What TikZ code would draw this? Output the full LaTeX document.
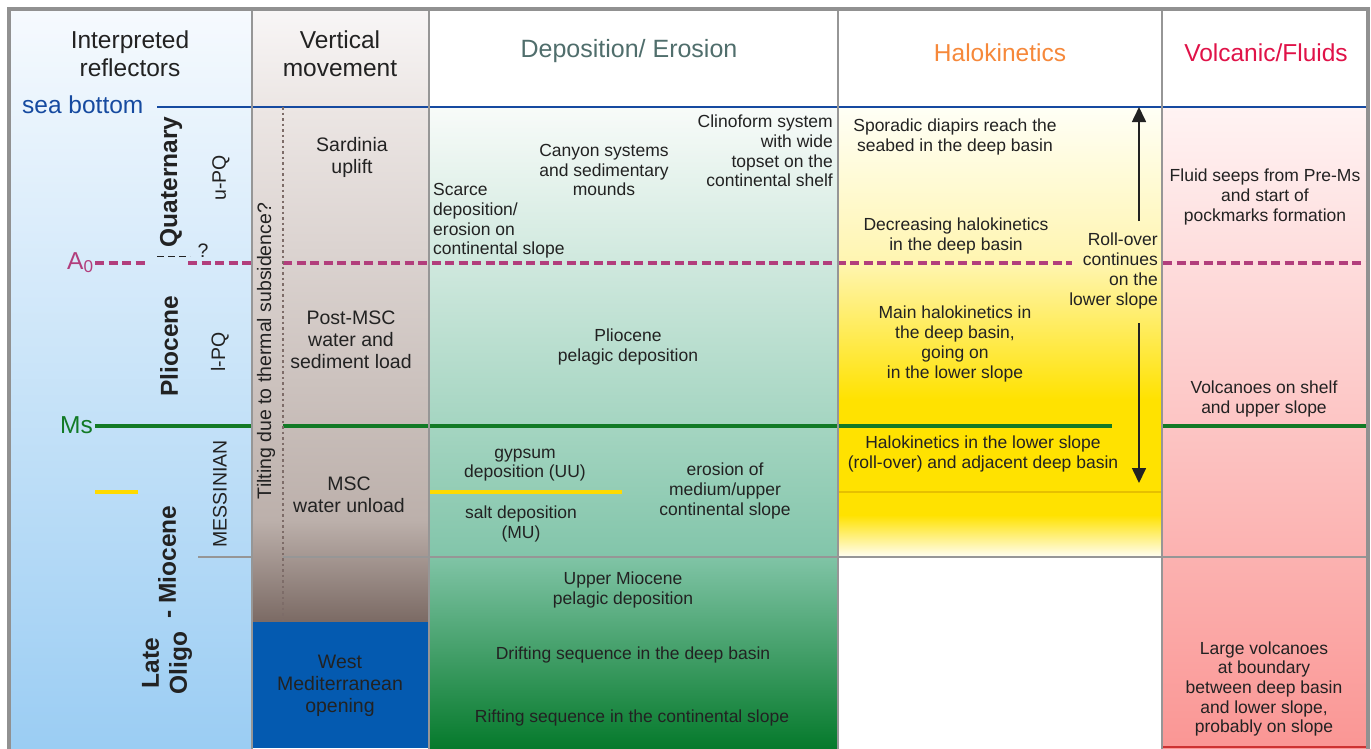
\documentclass[tikz,border=0pt]{standalone}
\usepackage{fontspec}
\setmainfont{Liberation Sans}
\usepackage{tikz}
\usetikzlibrary{positioning, arrows.meta}
\usepackage{color}

\definecolor{seablue}{RGB}{22,74,160}
\definecolor{azero}{RGB}{178,62,124}
\definecolor{msgreen}{RGB}{18,122,38}
\definecolor{gypyellow}{RGB}{255,218,0}
\definecolor{framegray}{RGB}{145,145,145}
\definecolor{rulegray}{RGB}{150,150,150}
\definecolor{txtgray}{RGB}{34,34,34}
\definecolor{depogray}{RGB}{80,110,108}
\definecolor{haloorange}{RGB}{246,136,58}
\definecolor{volcred}{RGB}{224,18,72}
\definecolor{westblue}{RGB}{4,90,176}
\definecolor{haloline}{RGB}{230,192,0}
\definecolor{halofull}{RGB}{255,226,0}
\definecolor{volcbase}{RGB}{205,50,50}
\definecolor{tiltdot}{RGB}{125,108,104}

\begin{document}
\begin{tikzpicture}[x=1pt, y=-1pt,
  txt/.style={text=txtgray, align=center, inner sep=0pt, font=\fontsize{17.5}{19.7}\selectfont},
  vtxt/.style={txt, font=\fontsize{19.5}{22}\selectfont},
  head/.style={text=txtgray, align=center, inner sep=0pt, font=\fontsize{24.5}{28}\selectfont},
  epoch/.style={rotate=90, inner sep=0pt, text=txtgray, font=\fontsize{24.5}{28}\selectfont\bfseries},
  stage/.style={rotate=90, inner sep=0pt, text=txtgray, font=\fontsize{19.5}{22}\selectfont},
  seabed/.style={draw=seablue, line width=2.6pt},
  horizonA/.style={draw=azero, line width=3.3pt, dash pattern=on 9pt off 4.5pt},
  msline/.style={draw=msgreen, line width=3.3pt},
  yline/.style={draw=gypyellow, line width=3.3pt},
  thinrule/.style={draw=rulegray, line width=1.5pt},
  divider/.style={draw=rulegray, line width=1.6pt},
  rollarrow/.style={draw=txtgray, line width=1.6pt, -{Triangle[width=14pt, length=15pt]}}]

  \useasboundingbox (0,0) rectangle (1371,748);
  \fill[white] (0,0) rectangle (1371,748);

  \shade[top color={rgb,255:red,246;green,250;blue,254}, bottom color={rgb,255:red,155;green,205;blue,243}] (9,9) rectangle (252,748);

  \shade[top color={rgb,255:red,248;green,246;blue,246}, bottom color={rgb,255:red,236;green,230;blue,228}] (252,9) rectangle (429,107);
  \shade[top color={rgb,255:red,236;green,230;blue,228}, bottom color={rgb,255:red,188;green,176;blue,171}] (252,107) rectangle (429,520);
  \shade[top color={rgb,255:red,188;green,176;blue,171}, bottom color={rgb,255:red,123;green,106;blue,100}] (252,520) rectangle (429,622);
  \fill[westblue] (252,622) rectangle (429,748);

  \shade[top color={rgb,255:red,248;green,251;blue,249}, bottom color={rgb,255:red,130;green,197;blue,170}] (429,107) rectangle (838,557);
  \shade[top color={rgb,255:red,128;green,196;blue,166}, middle color={rgb,255:red,30;green,162;blue,112}, bottom color={rgb,255:red,6;green,122;blue,44}] (429,557) rectangle (838,748);

  \shade[top color={rgb,255:red,255;green,255;blue,246}, bottom color={rgb,255:red,255;green,245;blue,176}] (838,107) rectangle (1162,263);
  \shade[top color={rgb,255:red,255;green,245;blue,176}, bottom color=halofull] (838,263) rectangle (1162,400);
  \fill[halofull] (838,400) rectangle (1162,515);
  \shade[top color=halofull, bottom color={rgb,255:red,255;green,254;blue,245}] (838,515) rectangle (1162,557);

  \shade[top color={rgb,255:red,255;green,243;blue,243}, bottom color={rgb,255:red,250;green,150;blue,148}] (1162,107) rectangle (1368,748);

  \draw[seabed] (157,107) -- (1368,107);
  \draw[horizonA] (95,263) -- (148,263);
  \draw[horizonA] (188,263) -- (252,263);
  \draw[horizonA] (283,263) -- (1072,263);
  \draw[horizonA] (1163,263) -- (1368,263);
  \draw[txtgray, line width=1pt, dash pattern=on 7pt off 4pt] (157,256) -- (190,256);
  \draw[msline] (95,426) -- (252,426);
  \draw[msline] (283,426) -- (1112,426);
  \draw[msline] (1163,426) -- (1368,426);
  \draw[yline] (95,492) -- (138,492);
  \draw[yline] (429,492) -- (622,492);
  \draw[haloline, line width=1.5pt] (838,492) -- (1162,492);
  \draw[thinrule] (198,557) -- (252,557);
  \draw[thinrule] (283,557) -- (1368,557);
  \draw[volcbase, line width=2pt] (1163,746.5) -- (1367,746.5);
  \draw[tiltdot, line width=1.2pt, dash pattern=on 2.5pt off 3pt] (283,107) -- (283,622);

  \draw[divider] (252,9) -- (252,760);
  \draw[divider] (429,9) -- (429,760);
  \draw[divider] (838,9) -- (838,760);
  \draw[divider] (1162,9) -- (1162,760);
  \draw[framegray, line width=4pt] (9,760) -- (9,9) -- (1368,9) -- (1368,760);

  \node[head]  (hrefl)  at (130,54)  {Interpreted\\reflectors};
  \node[head]  (hvert)  at (340,54)  {Vertical\\movement};
  \node[head, text=depogray, font=\fontsize{25}{28}\selectfont]  (hdepo)  at (629,51)  {Deposition/ Erosion};
  \node[head, text=haloorange]  (hhalo)  at (1000,53)  {Halokinetics};
  \node[head, text=volcred]  (hvolc)  at (1266,53)  {Volcanic/Fluids};

  \node[head, text=seablue, anchor=base west]  (sb)  at (22,113)  {sea bottom};
  \node[head, text=azero, anchor=base west]  (a0)  at (67,269)  {A\textsubscript{0}};
  \node[head, text=msgreen, anchor=base west]  (ms)  at (60,433)  {Ms};
  \node[vtxt]  (qmark)  at (203,251)  {?};

  \node[epoch]  (quat)  at (171,182)  {Quaternary};
  \node[epoch]  (plio)  at (169,346)  {Pliocene};
  \node[epoch]  (mioc)  at (167,562)  {- Miocene};
  \node[epoch, align=center]  (olig)  at (167,663)  {Late\\Oligo};
  \node[stage]  (upq)  at (221,178)  {u-PQ};
  \node[stage]  (lpq)  at (220,352)  {l-PQ};
  \node[stage]  (mess)  at (220,494)  {MESSINIAN};
  \node[stage]  (tilt)  at (266,351)  {Tilting due to thermal subsidence?};

  \node[vtxt]  (sard)  at (352,157)  {Sardinia\\uplift};
  \node[vtxt]  (post)  at (351,340)  {Post-MSC\\water and\\sediment load};
  \node[vtxt]  (msc)  at (349,495)  {MSC\\water unload};
  \node[vtxt]  (west)  at (340,686)  {West\\Mediterranean\\opening};

  \node[txt, align=left, anchor=west]  (scarce)  at (433,221)  {Scarce\\deposition/\\erosion on\\continental slope};
  \node[txt]  (canyon)  at (604,170)  {Canyon systems\\and sedimentary\\mounds};
  \node[txt, align=right, anchor=east]  (clino)  at (833,151)  {Clinoform system\\with wide\\topset on the\\continental shelf};
  \node[txt]  (plpel)  at (628,347)  {Pliocene\\pelagic deposition};
  \node[txt]  (gyps)  at (525,465)  {gypsum\\deposition (UU)};
  \node[txt]  (salt)  at (521,524)  {salt deposition\\(MU)};
  \node[txt]  (eros)  at (725,491)  {erosion of\\medium/upper\\continental slope};
  \node[txt]  (umpel)  at (623,590)  {Upper Miocene\\pelagic deposition};
  \node[txt]  (drift)  at (633,655)  {Drifting sequence in the deep basin};
  \node[txt]  (rift)  at (632,718)  {Rifting sequence in the continental slope};

  \node[txt]  (spor)  at (955,137)  {Sporadic diapirs reach the\\seabed in the deep basin};
  \node[txt]  (decr)  at (956,236)  {Decreasing halokinetics\\in the deep basin};
  \node[txt]  (mainh)  at (955,344)  {Main halokinetics in\\the deep basin,\\going on\\in the lower slope};
  \node[txt]  (lowh)  at (983,454)  {Halokinetics in the lower slope\\(roll-over) and adjacent deep basin};
  \node[txt, align=right, anchor=east]  (roll)  at (1158,271)  {Roll-over\\continues\\on the\\lower slope};

  \node[txt]  (fluid)  at (1265,197)  {Fluid seeps from Pre-Ms\\and start of\\pockmarks formation};
  \node[txt]  (volc)  at (1264,399)  {Volcanoes on shelf\\and upper slope};
  \node[txt]  (large)  at (1264,689)  {Large volcanoes\\at boundary\\between deep basin\\and lower slope,\\probably on slope};

  \coordinate (rup) at (1139,221);
  \coordinate (rtop) at (1139,107);
  \coordinate (rdown) at (1139,323);
  \coordinate (rbot) at (1139,483);
  \draw[rollarrow] (rup) -- (rtop);
  \draw[rollarrow] (rdown) -- (rbot);
\end{tikzpicture}
\end{document}
